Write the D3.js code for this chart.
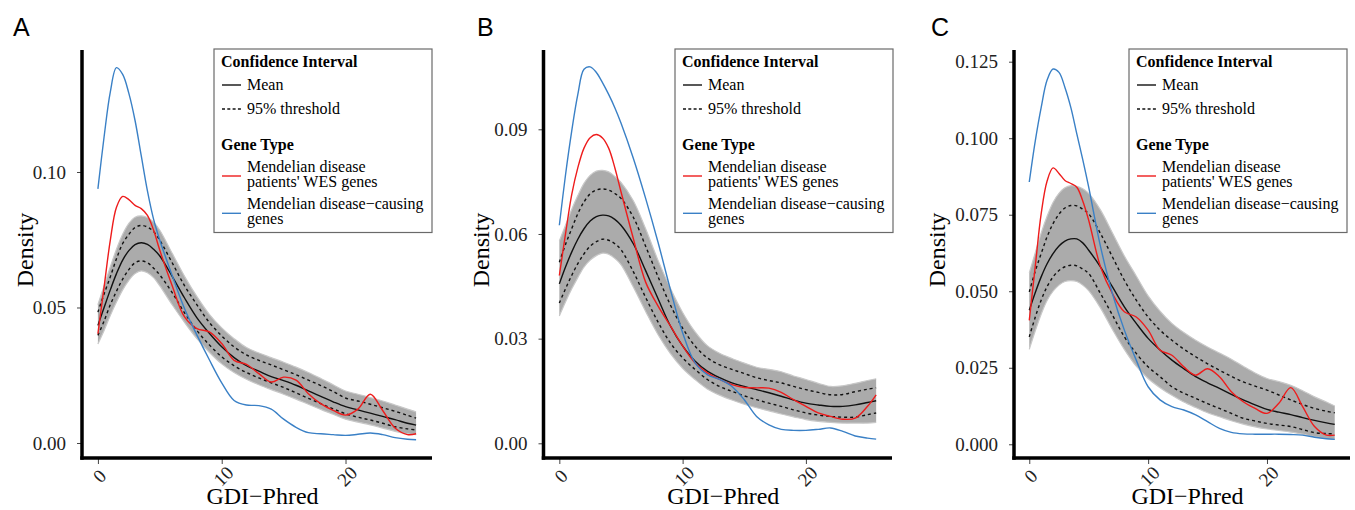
<!DOCTYPE html>
<html>
<head>
<meta charset="utf-8">
<script src="https://cdn.jsdelivr.net/npm/d3@7"></script>
<style>
  body { margin: 0; background: #fff; }
</style>
</head>
<body>
<div id="chart-area"></div>
<script>
// GDI-Phred grid shared by all curves
var gdi = [0, 0.5, 1, 1.5, 2, 2.5, 3, 3.5, 4, 4.5, 5, 6, 7, 8, 9, 10, 11, 12, 13, 14, 15, 16, 17, 18, 19, 20, 21, 22, 23, 24, 25, 25.7];
var xTicks = [0, 10, 20];

// Panel A
var causingA = [0.0938, 0.113, 0.1295, 0.1385, 0.136, 0.129, 0.119, 0.106, 0.093, 0.0825, 0.0748, 0.0618, 0.0495, 0.0398, 0.0307, 0.0222, 0.0157, 0.014, 0.0138, 0.0125, 0.0088, 0.0058, 0.0038, 0.0034, 0.0031, 0.0028, 0.0032, 0.0037, 0.0031, 0.002, 0.0014, 0.0012];
var wesA = [0.0403, 0.0576, 0.0748, 0.087, 0.091, 0.0898, 0.0877, 0.0865, 0.084, 0.0785, 0.0711, 0.058, 0.0465, 0.0422, 0.041, 0.0367, 0.0305, 0.029, 0.0256, 0.0225, 0.0243, 0.0232, 0.0182, 0.0145, 0.012, 0.0103, 0.0125, 0.018, 0.012, 0.0055, 0.0031, 0.0034];
var meanA = [0.0434, 0.050, 0.0565, 0.0625, 0.0675, 0.071, 0.0732, 0.0739, 0.0733, 0.0715, 0.069, 0.0615, 0.0535, 0.0462, 0.0405, 0.0355, 0.0315, 0.0285, 0.0265, 0.0245, 0.023, 0.0213, 0.0192, 0.0172, 0.0152, 0.0134, 0.0122, 0.011, 0.0098, 0.0086, 0.0073, 0.0066];
var upperA = [0.0483, 0.055, 0.0613, 0.068, 0.0736, 0.077, 0.0795, 0.0803, 0.0797, 0.078, 0.0748, 0.0665, 0.058, 0.051, 0.0445, 0.0395, 0.0355, 0.0325, 0.0305, 0.0288, 0.027, 0.0252, 0.0232, 0.0212, 0.019, 0.0166, 0.0155, 0.0143, 0.013, 0.0117, 0.0102, 0.0092];
var lowerA = [0.0397, 0.045, 0.051, 0.056, 0.0605, 0.064, 0.0665, 0.0672, 0.0665, 0.0645, 0.062, 0.0555, 0.048, 0.0415, 0.0362, 0.0318, 0.0285, 0.026, 0.024, 0.0222, 0.0205, 0.0185, 0.0165, 0.0145, 0.0126, 0.0108, 0.0095, 0.0085, 0.0073, 0.006, 0.0052, 0.0048];
var bandHiA = [0.051, 0.058, 0.065, 0.0715, 0.077, 0.081, 0.0833, 0.0838, 0.0832, 0.0815, 0.0785, 0.07, 0.0615, 0.054, 0.0475, 0.0425, 0.0385, 0.0352, 0.0332, 0.0315, 0.0298, 0.028, 0.026, 0.0238, 0.0215, 0.0192, 0.018, 0.0168, 0.0155, 0.014, 0.0125, 0.0115];
var bandLoA = [0.0365, 0.0415, 0.047, 0.052, 0.0565, 0.06, 0.0625, 0.0635, 0.0628, 0.061, 0.058, 0.051, 0.0445, 0.0385, 0.0335, 0.0292, 0.026, 0.0235, 0.0215, 0.0197, 0.018, 0.0162, 0.0143, 0.0124, 0.0106, 0.0088, 0.0077, 0.0067, 0.0055, 0.0043, 0.0034, 0.0031];
var yTicksA = [0, 0.05, 0.10];
var yLabelsA = ["0.00", "0.05", "0.10"];

// Panel B
var causingB = [0.0625, 0.0769, 0.0894, 0.100, 0.1072, 0.1079, 0.1063, 0.1034, 0.100, 0.0962, 0.0918, 0.0817, 0.0702, 0.0577, 0.0442, 0.0317, 0.0231, 0.0197, 0.0183, 0.0163, 0.0125, 0.0077, 0.0053, 0.004, 0.0037, 0.0037, 0.004, 0.0044, 0.0034, 0.0021, 0.0015, 0.0012];
var wesB = [0.0481, 0.060, 0.0712, 0.079, 0.0846, 0.0876, 0.0885, 0.0875, 0.0846, 0.079, 0.0721, 0.0587, 0.0462, 0.0394, 0.0337, 0.0279, 0.0231, 0.0202, 0.0183, 0.0168, 0.016, 0.0159, 0.0158, 0.0146, 0.0125, 0.0106, 0.0087, 0.0077, 0.0069, 0.0072, 0.0106, 0.0139];
var meanB = [0.0457, 0.0505, 0.0548, 0.0585, 0.0615, 0.0637, 0.065, 0.0654, 0.0652, 0.0642, 0.0625, 0.0572, 0.0495, 0.0415, 0.0337, 0.0279, 0.0236, 0.0207, 0.0188, 0.0173, 0.0163, 0.0154, 0.0145, 0.0135, 0.0124, 0.0115, 0.011, 0.0106, 0.0106, 0.011, 0.0117, 0.0122];
var upperB = [0.0519, 0.057, 0.0615, 0.0658, 0.0692, 0.0715, 0.0726, 0.0729, 0.0726, 0.0716, 0.0702, 0.0648, 0.0565, 0.0478, 0.0397, 0.033, 0.0279, 0.0245, 0.0225, 0.0212, 0.02, 0.0188, 0.018, 0.0173, 0.0163, 0.0154, 0.0146, 0.0139, 0.014, 0.0148, 0.0155, 0.0159];
var lowerB = [0.0402, 0.0443, 0.0481, 0.0515, 0.0543, 0.0565, 0.0578, 0.0585, 0.0582, 0.0572, 0.0555, 0.0492, 0.0418, 0.0348, 0.0288, 0.0245, 0.0212, 0.0183, 0.0163, 0.0149, 0.0136, 0.0125, 0.0115, 0.0106, 0.0096, 0.0087, 0.0081, 0.0077, 0.0075, 0.0075, 0.0082, 0.0087];
var bandHiB = [0.058, 0.0625, 0.067, 0.071, 0.0745, 0.0768, 0.078, 0.0782, 0.0778, 0.0765, 0.0748, 0.0695, 0.0615, 0.0525, 0.0445, 0.0375, 0.032, 0.028, 0.0258, 0.0243, 0.023, 0.0218, 0.0212, 0.0205, 0.0193, 0.0183, 0.0172, 0.0163, 0.0165, 0.0172, 0.018, 0.0185];
var bandLoB = [0.0365, 0.0405, 0.0442, 0.0475, 0.0505, 0.0525, 0.0538, 0.0545, 0.0542, 0.053, 0.0512, 0.0448, 0.0378, 0.0312, 0.0258, 0.0215, 0.0183, 0.0156, 0.0138, 0.0124, 0.0112, 0.0102, 0.0093, 0.0084, 0.0076, 0.0068, 0.0063, 0.006, 0.0058, 0.0058, 0.0058, 0.006];
var yTicksB = [0, 0.03, 0.06, 0.09];
var yLabelsB = ["0.00", "0.03", "0.06", "0.09"];

// Panel C
var causingC = [0.0857, 0.099, 0.110, 0.119, 0.1226, 0.1215, 0.1166, 0.110, 0.1014, 0.093, 0.084, 0.0645, 0.0492, 0.0373, 0.0275, 0.0188, 0.0145, 0.0123, 0.0112, 0.0096, 0.0074, 0.0052, 0.0039, 0.0034, 0.0033, 0.0033, 0.0033, 0.0032, 0.003, 0.0023, 0.0018, 0.0016];
var wesC = [0.0405, 0.058, 0.0753, 0.086, 0.0903, 0.0885, 0.0862, 0.0852, 0.084, 0.0795, 0.0732, 0.0579, 0.0492, 0.0433, 0.0416, 0.0373, 0.0308, 0.0291, 0.0253, 0.0226, 0.0247, 0.0221, 0.0172, 0.0139, 0.0117, 0.0101, 0.0134, 0.0185, 0.0123, 0.0058, 0.003, 0.003];
var meanC = [0.0438, 0.0495, 0.0547, 0.059, 0.0623, 0.0648, 0.0664, 0.0671, 0.0671, 0.0658, 0.0634, 0.0579, 0.0514, 0.0449, 0.0395, 0.0346, 0.0308, 0.0275, 0.0247, 0.0221, 0.0201, 0.0183, 0.0163, 0.0145, 0.0129, 0.0114, 0.0105, 0.0097, 0.0087, 0.0078, 0.007, 0.0065];
var upperC = [0.0498, 0.0565, 0.0623, 0.0678, 0.0721, 0.0752, 0.0772, 0.078, 0.0779, 0.0768, 0.0753, 0.0688, 0.0612, 0.0536, 0.0471, 0.0416, 0.0373, 0.034, 0.0311, 0.0286, 0.0263, 0.0242, 0.0222, 0.0204, 0.019, 0.0177, 0.0161, 0.0145, 0.013, 0.0117, 0.0108, 0.0103];
var lowerC = [0.0351, 0.0415, 0.0471, 0.0515, 0.0547, 0.0568, 0.058, 0.0585, 0.0583, 0.0572, 0.0558, 0.0492, 0.0422, 0.0351, 0.0297, 0.0253, 0.0221, 0.0188, 0.0167, 0.015, 0.0133, 0.0117, 0.0101, 0.0085, 0.0076, 0.0068, 0.0063, 0.0058, 0.0048, 0.0038, 0.0035, 0.0034];
var bandHiC = [0.056, 0.0625, 0.069, 0.0745, 0.079, 0.082, 0.0838, 0.0845, 0.0843, 0.0835, 0.082, 0.0765, 0.069, 0.0615, 0.055, 0.0485, 0.0435, 0.0395, 0.0365, 0.034, 0.0318, 0.0298, 0.0278, 0.0255, 0.0233, 0.0215, 0.0205, 0.0193, 0.0175, 0.0155, 0.0138, 0.0125];
var bandLoC = [0.031, 0.037, 0.0425, 0.047, 0.05, 0.052, 0.0532, 0.0535, 0.0532, 0.052, 0.0502, 0.0445, 0.0375, 0.031, 0.0255, 0.0215, 0.0185, 0.016, 0.0138, 0.012, 0.0103, 0.009, 0.0077, 0.0066, 0.0057, 0.005, 0.0045, 0.004, 0.0033, 0.0025, 0.0019, 0.0016];
var yTicksC = [0, 0.025, 0.05, 0.075, 0.1, 0.125];
var yLabelsC = ["0.000", "0.025", "0.050", "0.075", "0.100", "0.125"];

var SERIF = "'Liberation Serif', 'Times New Roman', serif";
var RED = "#ee1c1c";
var BLUE = "#3a80c6";

var svg = d3.select("#chart-area")
    .append("svg")
    .attr("width", 1355)
    .attr("height", 510);

// panel layout
var panels = [
    { letter: "A", letterX: 13, left: 82, right: 432, yDomain: [-0.00554, 0.14502], densX: 33, legendX: 214,
      yTicks: yTicksA, yLabels: yLabelsA, mean: meanA, upper: upperA, lower: lowerA, hi: bandHiA, lo: bandLoA, wes: wesA, causing: causingA },
    { letter: "B", letterX: 477, left: 543.5, right: 892, yDomain: [-0.00421, 0.11273], densX: 489, legendX: 675,
      yTicks: yTicksB, yLabels: yLabelsB, mean: meanB, upper: upperB, lower: lowerB, hi: bandHiB, lo: bandLoB, wes: wesB, causing: causingB },
    { letter: "C", letterX: 931, left: 1014, right: 1350, yDomain: [-0.00448, 0.12882], densX: 945, legendX: 1129,
      yTicks: yTicksC, yLabels: yLabelsC, mean: meanC, upper: upperC, lower: lowerC, hi: bandHiC, lo: bandLoC, wes: wesC, causing: causingC }
];

panels.forEach(drawPanel);

function drawPanel(p) {
    var top = 50, bottom = 458;
    var x = d3.scaleLinear().domain([-1.285, 26.985]).range([p.left, p.right]);
    var y = d3.scaleLinear().domain(p.yDomain).range([bottom, top]);
    var g = svg.append("g");

    var pts = function (arr) { return gdi.map(function (d, i) { return [d, arr[i]]; }); };
    var line = d3.line()
        .x(function (d) { return x(d[0]); })
        .y(function (d) { return y(d[1]); })
        .curve(d3.curveCatmullRom.alpha(0.5));
    var area = d3.area()
        .x(function (d) { return x(d[0]); })
        .y0(function (d) { return y(d[1]); })
        .y1(function (d) { return y(d[2]); })
        .curve(d3.curveCatmullRom.alpha(0.5));

    // gray band of simulated curves
    g.append("path")
        .datum(gdi.map(function (d, i) { return [d, p.lo[i], p.hi[i]]; }))
        .attr("d", area)
        .attr("fill", "#ababab");
    [p.hi, p.lo].forEach(function (arr) {
        g.append("path").datum(pts(arr)).attr("d", line)
            .attr("fill", "none").attr("stroke", "#c8c8c8").attr("stroke-width", 1.2);
    });

    // 95% threshold
    [p.upper, p.lower].forEach(function (arr) {
        g.append("path").datum(pts(arr)).attr("d", line)
            .attr("fill", "none").attr("stroke", "#111").attr("stroke-width", 1.4)
            .attr("stroke-dasharray", "3,3");
    });
    // mean
    g.append("path").datum(pts(p.mean)).attr("d", line)
        .attr("fill", "none").attr("stroke", "#111").attr("stroke-width", 1.4);
    // gene types
    g.append("path").datum(pts(p.wes)).attr("d", line)
        .attr("fill", "none").attr("stroke", RED).attr("stroke-width", 1.4);
    g.append("path").datum(pts(p.causing)).attr("d", line)
        .attr("fill", "none").attr("stroke", BLUE).attr("stroke-width", 1.4);

    // AXES
    var leftAxis = d3.axisLeft(y).tickValues(p.yTicks)
        .tickFormat(function (d, i) { return p.yLabels[i]; })
        .tickSize(5).tickSizeOuter(0).tickPadding(11);
    var gy = g.append("g").attr("transform", "translate(" + p.left + ",0)").call(leftAxis)
        .attr("font-family", SERIF).attr("font-size", 19);
    gy.select(".domain").remove();
    gy.selectAll(".tick line").attr("stroke", "#444");
    gy.selectAll(".tick text").attr("fill", "#222");

    var bottomAxis = d3.axisBottom(x).tickValues(xTicks).tickSize(6).tickSizeOuter(0);
    var gx = g.append("g").attr("transform", "translate(0," + bottom + ")").call(bottomAxis)
        .attr("font-family", SERIF).attr("font-size", 19);
    gx.select(".domain").remove();
    gx.selectAll(".tick line").attr("stroke", "#444");
    gx.selectAll(".tick text")
        .attr("fill", "#222")
        .attr("y", 0).attr("dy", "0.35em")
        .attr("text-anchor", "middle")
        .attr("transform", "translate(1,18) rotate(-45)");

    g.append("line").attr("x1", p.left).attr("x2", p.left).attr("y1", top).attr("y2", bottom + 1.75)
        .attr("stroke", "black").attr("stroke-width", 3.5);
    g.append("line").attr("x1", p.left - 1.75).attr("x2", p.right).attr("y1", bottom).attr("y2", bottom)
        .attr("stroke", "black").attr("stroke-width", 3.5);

    // titles
    g.append("text")
        .attr("x", (p.left + p.right) / 2 + 5.5).attr("y", 504)
        .attr("text-anchor", "middle").attr("font-family", SERIF).attr("font-size", 24)
        .text("GDI\u2212Phred");
    g.append("text")
        .attr("transform", "translate(" + p.densX + ",250) rotate(-90)")
        .attr("text-anchor", "middle").attr("font-family", SERIF).attr("font-size", 24)
        .text("Density");
    g.append("text")
        .attr("x", p.letterX).attr("y", 36)
        .attr("font-family", "'Liberation Sans', Arial, sans-serif").attr("font-size", 25)
        .text(p.letter);

    // LEGEND
    var lg = g.append("g").attr("transform", "translate(" + p.legendX + ",49)")
        .attr("font-family", SERIF).attr("font-size", 16);
    lg.append("rect").attr("width", 218).attr("height", 183.5)
        .attr("fill", "white").attr("stroke", "#6a6a6a").attr("stroke-width", 1.2);
    lg.append("text").attr("x", 7).attr("y", 18.3).attr("font-weight", "bold").text("Confidence Interval");
    lg.append("line").attr("x1", 8).attr("x2", 27).attr("y1", 36).attr("y2", 36)
        .attr("stroke", "#111").attr("stroke-width", 1.4);
    lg.append("text").attr("x", 33).attr("y", 40.5).text("Mean");
    lg.append("line").attr("x1", 8).attr("x2", 27).attr("y1", 60).attr("y2", 60)
        .attr("stroke", "#111").attr("stroke-width", 1.4).attr("stroke-dasharray", "3,2.3");
    lg.append("text").attr("x", 33).attr("y", 64.5).text("95% threshold");
    lg.append("text").attr("x", 7).attr("y", 101).attr("font-weight", "bold").text("Gene Type");
    lg.append("line").attr("x1", 8).attr("x2", 27).attr("y1", 127).attr("y2", 127)
        .attr("stroke", RED).attr("stroke-width", 1.4);
    lg.append("text").attr("x", 33).attr("y", 122.7).text("Mendelian disease");
    lg.append("text").attr("x", 33).attr("y", 137.7).text("patients' WES genes");
    lg.append("line").attr("x1", 8).attr("x2", 27).attr("y1", 164.3).attr("y2", 164.3)
        .attr("stroke", BLUE).attr("stroke-width", 1.4);
    lg.append("text").attr("x", 33).attr("y", 159.8).text("Mendelian disease\u2212causing");
    lg.append("text").attr("x", 33).attr("y", 174.8).text("genes");
}
</script>
</body>
</html>
